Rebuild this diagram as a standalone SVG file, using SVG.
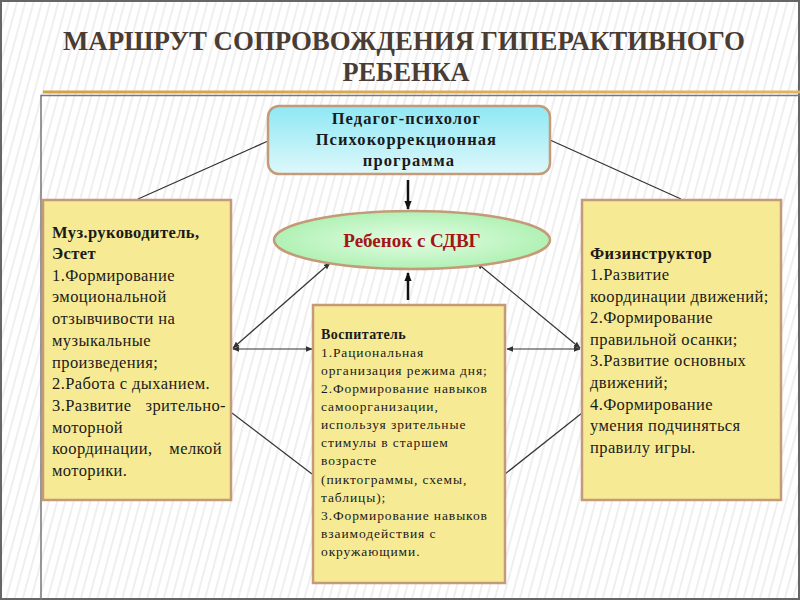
<svg xmlns="http://www.w3.org/2000/svg" width="800" height="600" viewBox="0 0 800 600">
<defs>
<pattern id="stripes" patternUnits="userSpaceOnUse" width="8" height="8" patternTransform="rotate(15)">
<rect width="8" height="8" fill="#ffffff"/>
<rect width="2" height="8" fill="#efefef"/>
</pattern>
<linearGradient id="cyan" x1="0" y1="0" x2="0" y2="1">
<stop offset="0" stop-color="#8ee8f4"/>
<stop offset="1" stop-color="#def8fb"/>
</linearGradient>
<radialGradient id="green" cx="0.5" cy="0.5" r="0.6">
<stop offset="0" stop-color="#e4fde4"/>
<stop offset="1" stop-color="#a6efab"/>
</radialGradient>
<linearGradient id="gold" x1="0" y1="0" x2="1" y2="0">
<stop offset="0" stop-color="#d9a040"/>
<stop offset="1" stop-color="#e2b565"/>
</linearGradient>
<marker id="ah" viewBox="0 0 10 10" refX="9" refY="5" markerWidth="7" markerHeight="7" orient="auto-start-reverse" markerUnits="userSpaceOnUse">
<path d="M0,1 L10,5 L0,9 z" fill="#333"/>
</marker>
<marker id="ahb" viewBox="0 0 10 10" refX="9" refY="5" markerWidth="9" markerHeight="9" orient="auto-start-reverse" markerUnits="userSpaceOnUse">
<path d="M0,1 L10,5 L0,9 z" fill="#111"/>
</marker>
</defs>
<style>
.box{fill:#f7ea95;stroke:#c49a78;stroke-width:2.5}
.ln{stroke:#333;stroke-width:1.2;fill:none}
</style>
<rect width="800" height="600" fill="url(#stripes)"/>
<rect x="1" y="1" width="798" height="598" fill="none" stroke="#666" stroke-width="2"/>
<g font-family="'Liberation Serif','Times New Roman',serif">
<text x="404" y="50" text-anchor="middle" font-size="27" font-weight="bold" fill="#4a3c33" textLength="682" lengthAdjust="spacingAndGlyphs">МАРШРУТ СОПРОВОЖДЕНИЯ ГИПЕРАКТИВНОГО</text>
<text x="406" y="81" text-anchor="middle" font-size="27" font-weight="bold" fill="#4a3c33" textLength="127" lengthAdjust="spacingAndGlyphs">РЕБЕНКА</text>
</g>
<rect x="43" y="90.5" width="757" height="3" fill="url(#gold)"/>
<path d="M41,600 V95.5 H800" fill="none" stroke="#777" stroke-width="1.5"/>

<g id="connectors">
<line class="ln" x1="268" y1="141" x2="138" y2="199"/>
<line class="ln" x1="550" y1="140" x2="681" y2="199"/>
<line x1="408" y1="180" x2="408" y2="209" stroke="#111" stroke-width="2.5" marker-end="url(#ahb)"/>
<line x1="408" y1="300" x2="408" y2="273" stroke="#111" stroke-width="2.5" marker-end="url(#ahb)"/>
<line class="ln" x1="330" y1="263" x2="233" y2="348" marker-start="url(#ah)" marker-end="url(#ah)"/>
<line class="ln" x1="233" y1="349" x2="312" y2="349" marker-start="url(#ah)" marker-end="url(#ah)"/>
<line class="ln" x1="477" y1="263" x2="580" y2="348" marker-start="url(#ah)" marker-end="url(#ah)"/>
<line class="ln" x1="507" y1="349" x2="580" y2="349" marker-start="url(#ah)" marker-end="url(#ah)"/>
<line class="ln" x1="232" y1="413" x2="312" y2="474"/>
<line class="ln" x1="505" y1="474" x2="582" y2="413"/>
</g>

<g id="psychologist" font-family="'Liberation Serif','Times New Roman',serif">
<rect x="268" y="106" width="282" height="68" rx="11" fill="url(#cyan)" stroke="#c49a78" stroke-width="2.5"/>
<text font-size="16.5" font-weight="bold" fill="#1a1a1a" text-anchor="middle" letter-spacing="1.1">
<tspan x="409" y="124">Педагог-психолог</tspan>
<tspan x="409" y="145">Психокоррекционная</tspan>
<tspan x="409" y="166">программа</tspan>
</text>
</g>

<g id="child" font-family="'Liberation Serif','Times New Roman',serif">
<ellipse cx="412" cy="240" rx="138" ry="29" fill="url(#green)" stroke="#c49a78" stroke-width="2.5"/>
<text x="412" y="247" text-anchor="middle" font-size="19" font-weight="bold" fill="#a31616">Ребенок с СДВГ</text>
</g>

<g id="music" font-family="'Liberation Serif','Times New Roman',serif" font-size="16.5" fill="#1a1a1a" letter-spacing="0.4">
<rect class="box" x="43" y="200" width="188" height="300"/>
<text>
<tspan x="52" y="238" font-weight="bold">Муз.руководитель,</tspan>
<tspan x="52" y="259" font-weight="bold">Эстет</tspan>
<tspan x="52" y="281">1.Формирование</tspan>
<tspan x="52" y="302">эмоциональной</tspan>
<tspan x="52" y="324">отзывчивости на</tspan>
<tspan x="52" y="346">музыкальные</tspan>
<tspan x="52" y="368">произведения;</tspan>
<tspan x="52" y="389">2.Работа с дыханием.</tspan>
<tspan x="52" y="411">3.Развитие</tspan>
<tspan x="52" y="433">моторной</tspan>
<tspan x="52" y="454">координации,</tspan>
<tspan x="52" y="476">моторики.</tspan>
</text>
<text x="226" y="411" text-anchor="end">зрительно-</text>
<text x="222" y="454" text-anchor="end">мелкой</text>
</g>

<g id="physical" font-family="'Liberation Serif','Times New Roman',serif" font-size="16.5" fill="#1a1a1a" letter-spacing="0.4">
<rect class="box" x="582" y="200" width="199" height="300"/>
<text>
<tspan x="590" y="259" font-weight="bold">Физинструктор</tspan>
<tspan x="590" y="280">1.Развитие</tspan>
<tspan x="590" y="302">координации движений;</tspan>
<tspan x="590" y="323">2.Формирование</tspan>
<tspan x="590" y="345">правильной осанки;</tspan>
<tspan x="590" y="366">3.Развитие основных</tspan>
<tspan x="590" y="388">движений;</tspan>
<tspan x="590" y="410">4.Формирование</tspan>
<tspan x="590" y="431">умения подчиняться</tspan>
<tspan x="590" y="453">правилу игры.</tspan>
</text>
</g>

<g id="educator" font-family="'Liberation Serif','Times New Roman',serif">
<rect class="box" x="313" y="305" width="192" height="278"/>
<text font-size="13.5" fill="#1a1a1a" letter-spacing="0.9">
<tspan x="321" y="339" font-weight="bold" font-size="14" letter-spacing="0.4">Воспитатель</tspan>
<tspan x="321" y="357">1.Рациональная</tspan>
<tspan x="321" y="375">организация режима дня;</tspan>
<tspan x="321" y="393">2.Формирование навыков</tspan>
<tspan x="321" y="411">самоорганизации,</tspan>
<tspan x="321" y="429">используя зрительные</tspan>
<tspan x="321" y="447">стимулы в старшем</tspan>
<tspan x="321" y="465">возрасте</tspan>
<tspan x="321" y="484">(пиктограммы, схемы,</tspan>
<tspan x="321" y="502">таблицы);</tspan>
<tspan x="321" y="520">3.Формирование навыков</tspan>
<tspan x="321" y="538">взаимодействия с</tspan>
<tspan x="321" y="556">окружающими.</tspan>
</text>
</g>
</svg>
